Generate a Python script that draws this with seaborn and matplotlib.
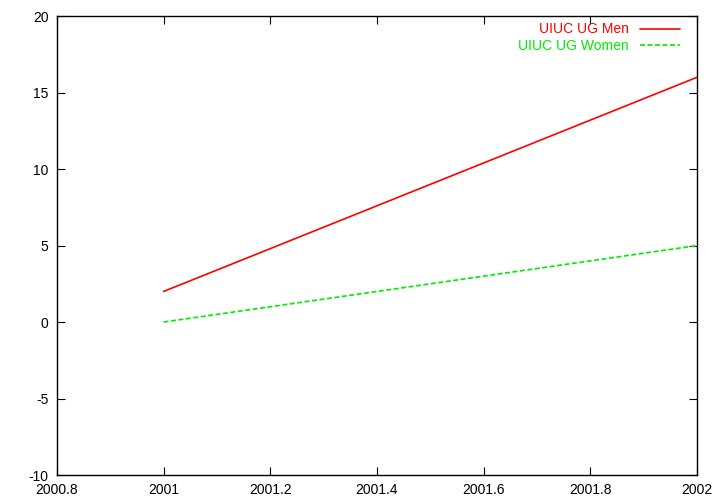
import matplotlib
matplotlib.use("Agg")
import matplotlib.pyplot as plt
import seaborn as sns
import pandas as pd

years = [2001, 2002]
men = [2, 16]
women = [0, 5]

sns.set_style("ticks")
plt.rcParams['font.family'] = ['Liberation Sans', 'DejaVu Sans']
plt.rcParams['axes.unicode_minus'] = False

df = pd.DataFrame({'year': years * 2,
                   'count': men + women,
                   'group': ['UIUC UG Men'] * 2 + ['UIUC UG Women'] * 2})

fig = plt.figure(figsize=(7.2, 5.04), dpi=100)
ax = fig.add_axes([0.079, 0.0575, 0.889, 0.9105])

sns.lineplot(data=df, x='year', y='count', hue='group', style='group',
             palette=['#ff0000', '#00ee00'], dashes=[(None, None), (3, 1.5)],
             linewidth=1.2, ax=ax)

ax.set_xlim(2000.8, 2002)
ax.set_ylim(-10, 20)
ax.set_xticks([2000.8, 2001, 2001.2, 2001.4, 2001.6, 2001.8, 2002])
ax.set_xticklabels(['2000.8', '2001', '2001.2', '2001.4', '2001.6', '2001.8', '2002'])
ax.set_yticks(range(-10, 21, 5))
ax.set_xlabel('')
ax.set_ylabel('')
ax.tick_params(direction='in', top=True, right=True, length=6, width=0.8,
               labelsize=10, colors='black', pad=6)
for s in ax.spines.values():
    s.set_visible(True)
    s.set_color('black')
    s.set_linewidth(1)

leg = ax.legend(loc='upper right', bbox_to_anchor=(0.984, 1.0), frameon=False,
                markerfirst=False, labelcolor='linecolor', fontsize=10,
                handlelength=2.9, handletextpad=0.8, borderaxespad=0.3,
                labelspacing=0.2, borderpad=0.15)
for t in leg.get_texts():
    t.set_ha('right')
leg._legend_box.align = 'right'

fig.savefig('out.png', dpi=100)
